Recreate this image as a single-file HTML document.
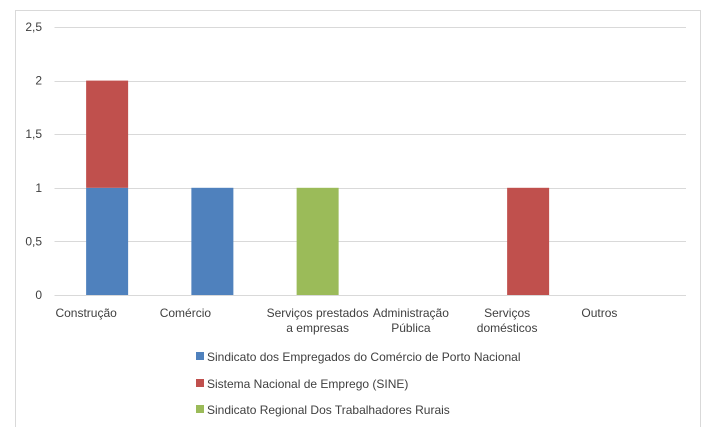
<!DOCTYPE html>
<html><head><meta charset="utf-8"><style>
body{margin:0;background:#fff;}
svg text{font-family:"Liberation Sans",sans-serif;font-size:12px;fill:#404040;}
</style></head><body>
<svg width="705" height="427">
<rect x="15.5" y="10.5" width="685" height="430" fill="#fff" stroke="#d9d9d9"/>
<g id="grid"></g><g id="bars"></g><g id="labels"></g>
<g>
<rect x="196" y="352" width="8" height="8" fill="#4f81bd"/>
<text x="207" y="361">Sindicato dos Empregados do Comércio de Porto Nacional</text>
<rect x="196" y="379" width="8" height="8" fill="#c0504d"/>
<text x="207" y="388">Sistema Nacional de Emprego (SINE)</text>
<rect x="196" y="405" width="8" height="8" fill="#9bbb59"/>
<text x="207" y="414">Sindicato Regional Dos Trabalhadores Rurais</text>
</g>
</svg>
<script>
const categories=[["Construção"],["Comércio"],["Serviços prestados","a empresas"],["Administração","Pública"],["Serviços","domésticos"],["Outros"]];
const seriesNames=["Sindicato Comércio","SINE","Sindicato Rurais"];
const sindicatoComercio=[1,1,0,0,0,0];
const sine=[1,0,0,0,1,0];
const sindicatoRurais=[0,0,1,0,0,0];
const yTicks=[0,0.5,1,1.5,2,2.5];
const yTickLabels=["0","0,5","1","1,5","2","2,5"];
const colors=["#4f81bd","#c0504d","#9bbb59"];
const labelShift=[-21,-27,0,-12,-21,-34];
const NS="http://www.w3.org/2000/svg";
const x0=54.5,x1=686,y0=295,yTop=27,yMax=2.5;
const cw=(x1-x0)/categories.length,bw=42;
const y=v=>y0-(v/yMax)*(y0-yTop);
const xc=i=>x0+cw*(i+0.5);
function mk(tag,attrs,parent){const e=document.createElementNS(NS,tag);for(const k in attrs)e.setAttribute(k,attrs[k]);document.getElementById(parent).appendChild(e);return e;}
yTicks.forEach((t,i)=>{
  const l=mk("line",{x1:x0,x2:x1,y1:Math.round(y(t))+0.5,y2:Math.round(y(t))+0.5,stroke:"#d9d9d9"},"grid");
  
  
  const tx=mk("text",{x:42,y:y(t)+4,"text-anchor":"end"},"grid");
  tx.textContent=yTickLabels[i];
  
  
});
const series=[sindicatoComercio,sine,sindicatoRurais];
categories.forEach((c,i)=>{
  let base=0;
  series.forEach((s,k)=>{
    if(s[i]>0){
      const r=mk("rect",{x:xc(i)-bw/2,y:y(base+s[i]),width:bw,height:y(base)-y(base+s[i]),fill:colors[k]},"bars");
      
      
      base+=s[i];
    }
  });
  c.forEach((line,j)=>{
    const t=mk("text",{x:xc(i)+labelShift[i],y:317+j*15,"text-anchor":"middle"},"labels");
    t.textContent=line;
    
    
  });
});
</script>
</body></html>
